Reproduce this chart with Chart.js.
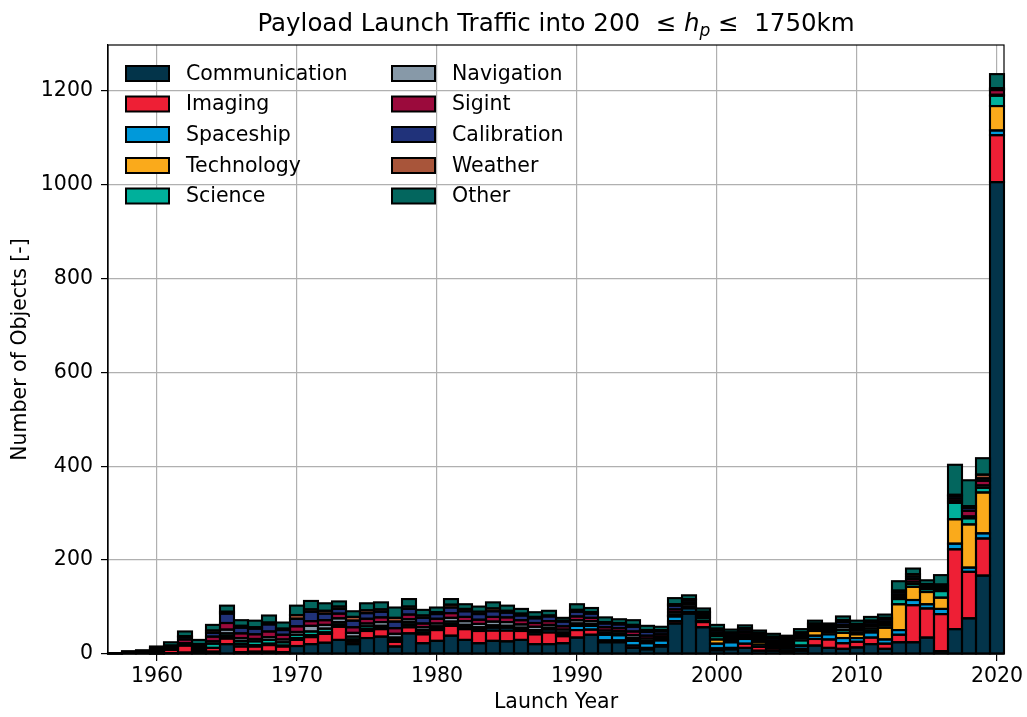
<!DOCTYPE html>
<html>
<head>
<meta charset="utf-8">
<script src="https://cdn.jsdelivr.net/npm/chart.js@4"></script>
<style>
  html, body { margin: 0; padding: 0; background: #fff; }
  #wrap { width: 1027px; height: 717px; }
</style>
</head>
<body>
<div id="wrap"><canvas id="myChart" width="1027" height="717"></canvas></div>
<script>
const FONT = 'DejaVu Sans';

const years = [
    1957, 1958, 1959, 1960, 1961, 1962, 1963, 1964, 1965, 1966,
    1967, 1968, 1969, 1970, 1971, 1972, 1973, 1974, 1975, 1976,
    1977, 1978, 1979, 1980, 1981, 1982, 1983, 1984, 1985, 1986,
    1987, 1988, 1989, 1990, 1991, 1992, 1993, 1994, 1995, 1996,
    1997, 1998, 1999, 2000, 2001, 2002, 2003, 2004, 2005, 2006,
    2007, 2008, 2009, 2010, 2011, 2012, 2013, 2014, 2015, 2016,
    2017, 2018, 2019, 2020
];

const communication = [
    0, 0, 0, 0, 2, 3, 2, 5, 21, 4,
    5, 5, 4, 17, 21, 24, 30, 21, 34, 37,
    16, 44, 23, 28, 39, 30, 23, 28, 27, 30,
    21, 21, 23, 35, 41, 25, 25, 13, 10, 16,
    65, 86, 57, 8, 10, 13, 7, 7, 5, 7,
    18, 13, 11, 14, 21, 11, 25, 25, 35, 6,
    53, 76, 167, 1005
];
const imaging = [
    0, 0, 0, 1, 7, 15, 2, 8, 12, 12,
    11, 14, 12, 13, 15, 19, 28, 5, 15, 16,
    10, 13, 19, 23, 21, 23, 26, 22, 23, 19,
    21, 25, 15, 16, 11, 4, 4, 5, 3, 3,
    5, 4, 11, 4, 3, 9, 8, 5, 3, 4,
    14, 18, 12, 12, 14, 11, 16, 79, 62, 79,
    170, 99, 79, 100
];
const spaceship = [
    0, 0, 0, 0, 0, 0, 0, 0, 2, 5,
    3, 2, 2, 3, 3, 2, 4, 4, 3, 2,
    3, 5, 3, 3, 3, 5, 3, 6, 6, 3,
    5, 6, 4, 9, 8, 12, 11, 10, 10, 10,
    10, 7, 2, 10, 12, 10, 5, 3, 5, 6,
    7, 11, 11, 8, 11, 9, 10, 11, 9, 11,
    12, 9, 11, 10
];
const technology = [
    0, 0, 0, 0, 0, 0, 0, 0, 4, 1,
    0, 1, 0, 1, 1, 1, 1, 1, 1, 1,
    2, 1, 1, 1, 1, 1, 1, 1, 1, 1,
    1, 1, 1, 1, 1, 1, 1, 3, 2, 1,
    1, 1, 1, 9, 2, 3, 6, 2, 4, 1,
    10, 5, 11, 8, 3, 25, 55, 28, 26, 24,
    52, 92, 87, 52
];
const science = [
    1, 3, 3, 4, 3, 3, 4, 9, 5, 6,
    8, 8, 7, 7, 8, 8, 5, 6, 6, 4,
    4, 5, 5, 4, 5, 3, 4, 4, 3, 3,
    3, 3, 3, 4, 3, 3, 3, 3, 3, 3,
    3, 3, 6, 7, 3, 3, 4, 4, 3, 11,
    4, 3, 6, 4, 5, 5, 11, 6, 6, 14,
    35, 13, 10, 22
];
const navigation = [
    0, 0, 0, 2, 0, 2, 3, 5, 8, 6,
    5, 6, 6, 6, 12, 8, 8, 8, 6, 8,
    8, 6, 6, 6, 8, 8, 7, 8, 8, 7,
    7, 6, 6, 7, 6, 5, 5, 6, 5, 4,
    5, 5, 3, 4, 4, 4, 4, 4, 4, 5,
    3, 3, 6, 5, 5, 4, 4, 5, 3, 3,
    4, 4, 5, 2
];
const sigint = [
    0, 0, 1, 2, 3, 8, 4, 10, 14, 10,
    10, 12, 10, 12, 10, 10, 10, 12, 10, 10,
    12, 10, 8, 10, 10, 9, 9, 10, 10, 9,
    8, 8, 7, 8, 7, 7, 6, 8, 6, 5,
    6, 4, 4, 4, 4, 5, 4, 4, 4, 4,
    3, 3, 5, 4, 4, 4, 5, 6, 3, 4,
    5, 12, 10, 10
];
const calibration = [
    0, 1, 2, 3, 3, 5, 4, 8, 20, 12,
    12, 15, 10, 16, 20, 14, 10, 14, 12, 12,
    14, 12, 12, 10, 12, 12, 12, 12, 10, 10,
    10, 10, 10, 10, 9, 8, 8, 10, 8, 6,
    8, 5, 4, 5, 5, 5, 4, 5, 4, 5,
    4, 3, 6, 5, 5, 5, 5, 5, 3, 4,
    5, 6, 5, 2
];
const weather = [
    0, 0, 0, 1, 0, 2, 2, 5, 4, 4,
    3, 4, 3, 8, 5, 6, 5, 8, 6, 5,
    8, 5, 5, 4, 6, 5, 5, 6, 4, 4,
    3, 2, 2, 4, 3, 3, 3, 4, 4, 3,
    3, 2, 2, 3, 3, 3, 3, 3, 3, 3,
    2, 2, 4, 4, 3, 3, 4, 5, 2, 3,
    3, 4, 8, 2
];
const other = [
    1, 2, 2, 3, 7, 10, 9, 12, 13, 12,
    14, 15, 13, 20, 18, 16, 11, 12, 15, 15,
    22, 16, 12, 10, 12, 10, 11, 13, 11, 10,
    10, 10, 6, 12, 9, 10, 8, 10, 9, 7,
    13, 8, 7, 8, 6, 6, 5, 6, 4, 7,
    6, 4, 8, 7, 8, 7, 20, 12, 8, 20,
    64, 55, 35, 30
];

const yTicks = [0, 200, 400, 600, 800, 1000, 1200];

const series = [
    { label: 'Communication', data: communication, color: '#03344a' },
    { label: 'Imaging',       data: imaging,       color: '#ee1f35' },
    { label: 'Spaceship',     data: spaceship,     color: '#0099da' },
    { label: 'Technology',    data: technology,    color: '#faaa1b' },
    { label: 'Science',       data: science,       color: '#00b09b' },
    { label: 'Navigation',    data: navigation,    color: '#8799a8' },
    { label: 'Sigint',        data: sigint,        color: '#9b0a3c' },
    { label: 'Calibration',   data: calibration,   color: '#20327a' },
    { label: 'Weather',       data: weather,       color: '#a8553a' },
    { label: 'Other',         data: other,         color: '#03665e' }
];

function isDecade(i) {
    return years[i] % 10 === 0;
}

// black edges centred on each bar outline (like matplotlib edgecolor)
const edgePlugin = {
    id: 'barEdges',
    afterDatasetsDraw(chart) {
        const ctx = chart.ctx;
        ctx.save();
        ctx.strokeStyle = '#000';
        ctx.lineWidth = 2.1;
        chart.data.datasets.forEach(function (ds, i) {
            const meta = chart.getDatasetMeta(i);
            meta.data.forEach(function (el) {
                const h = Math.abs(el.base - el.y);
                if (h < 0.01) return;
                const top = Math.min(el.y, el.base);
                ctx.strokeRect(el.x - el.width / 2, top, el.width, h);
            });
        });
        ctx.restore();
    }
};

// axes frame (top + right spines)
const framePlugin = {
    id: 'frame',
    afterDraw(chart) {
        const a = chart.chartArea;
        const ctx = chart.ctx;
        ctx.save();
        ctx.strokeStyle = '#000';
        ctx.lineWidth = 1.2;
        ctx.strokeRect(a.left, a.top, a.right - a.left, a.bottom - a.top);
        ctx.restore();
    }
};

// title with math part
const titlePlugin = {
    id: 'mathTitle',
    afterDraw(chart) {
        const ctx = chart.ctx;
        const a = chart.chartArea;
        const parts = [
            { t: 'Payload Launch Traffic into 200  ', f: '24.5px "' + FONT + '"', dy: 0 },
            { t: '\u2264 ', f: '24.5px "' + FONT + '"', dy: 0 },
            { t: 'h', f: 'italic 24.5px "' + FONT + '"', dy: 0 },
            { t: 'p', f: 'italic 17px "' + FONT + '"', dy: 5 },
            { t: ' \u2264  1750km', f: '24.5px "' + FONT + '"', dy: 0 }
        ];
        ctx.save();
        let total = 0;
        parts.forEach(function (p) {
            ctx.font = p.f;
            p.w = ctx.measureText(p.t).width;
            total += p.w;
        });
        let x = (a.left + a.right) / 2 - total / 2;
        const base = 31;
        ctx.fillStyle = '#000';
        ctx.textBaseline = 'alphabetic';
        parts.forEach(function (p) {
            ctx.font = p.f;
            ctx.fillText(p.t, x, base + p.dy);
            x += p.w;
        });
        ctx.restore();
    }
};

// two column legend in upper left
const legendPlugin = {
    id: 'colLegend',
    afterDraw(chart) {
        const ctx = chart.ctx;
        const rows = [73.5, 104, 134.5, 165.5, 196];
        const cols = [126, 392];
        ctx.save();
        ctx.font = '20.5px "' + FONT + '"';
        ctx.textBaseline = 'middle';
        chart.data.datasets.forEach(function (ds, i) {
            const col = Math.floor(i / 5);
            const row = i % 5;
            const bx = cols[col];
            const by = rows[row];
            ctx.fillStyle = ds.backgroundColor;
            ctx.fillRect(bx, by - 7.5, 43, 15);
            ctx.strokeStyle = '#000';
            ctx.lineWidth = 2;
            ctx.strokeRect(bx, by - 7.5, 43, 15);
            ctx.fillStyle = '#000';
            ctx.fillText(ds.label, bx + 60, by + 1);
        });
        ctx.restore();
    }
};

const ctx = document.getElementById('myChart');
const myChart = new Chart(ctx, {
    type: 'bar',
    data: {
        labels: years.map(String),
        datasets: series.map(function (s) {
            return {
                label: s.label,
                data: s.data,
                backgroundColor: s.color,
                borderWidth: 0,
                barPercentage: 1,
                categoryPercentage: 1
            };
        })
    },
    options: {
        responsive: false,
        animation: false,
        devicePixelRatio: 1,
        layout: { padding: { left: 0, right: 23, top: 45, bottom: 0 } },
        plugins: {
            legend: { display: false },
            title: { display: false },
            tooltip: { enabled: false }
        },
        scales: {
            x: {
                type: 'category',
                stacked: true,
                offset: true,
                grid: {
                    offset: false,
                    color: function (c) { return isDecade(c.index) ? '#b0b0b0' : 'rgba(0,0,0,0)'; },
                    tickColor: function (c) { return isDecade(c.index) ? '#000' : 'rgba(0,0,0,0)'; },
                    lineWidth: 1.2,
                    tickLength: 7
                },
                border: { color: '#000', width: 1.2 },
                ticks: {
                    autoSkip: false,
                    maxRotation: 0,
                    color: '#000',
                    padding: 3,
                    font: { family: FONT, size: 20.5 },
                    callback: function (v, i) { return isDecade(i) ? String(years[i]) : ''; }
                },
                title: {
                    display: true,
                    text: 'Launch Year',
                    color: '#000',
                    font: { family: FONT, size: 20.5 },
                    padding: { top: 2, bottom: 2 }
                },
                afterFit: function (s) { s.height = 63; }
            },
            y: {
                stacked: true,
                min: 0,
                max: 1297,
                grid: { color: '#b0b0b0', lineWidth: 1.2, tickColor: '#000', tickLength: 7 },
                border: { color: '#000', width: 1.2 },
                ticks: {
                    stepSize: 200,
                    color: '#000',
                    padding: 8,
                    font: { family: FONT, size: 20.5 },
                    callback: function (v) { return String(v); }
                },
                afterBuildTicks: function (s) {
                    s.ticks = yTicks.map(function (v) { return { value: v }; });
                },
                title: {
                    display: true,
                    text: 'Number of Objects [-]',
                    color: '#000',
                    font: { family: FONT, size: 20.5 },
                    padding: { top: 8, bottom: 0 }
                },
                afterFit: function (s) { s.width = 108; }
            }
        }
    },
    plugins: [edgePlugin, framePlugin, titlePlugin, legendPlugin]
});
</script>
</body>
</html>
